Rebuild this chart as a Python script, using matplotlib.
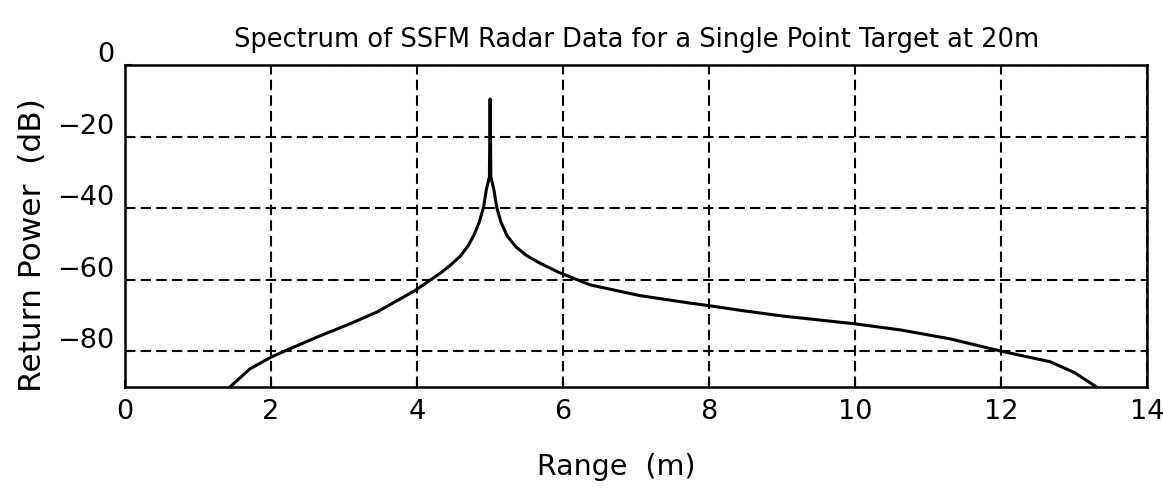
import numpy as np
import matplotlib
matplotlib.use('Agg')
import matplotlib.pyplot as plt
import matplotlib.transforms as mtransforms

# Values
range_m = [1.44, 1.71, 2.0, 2.21, 2.63, 3.08, 3.45, 3.77, 3.97, 4.22, 4.32, 4.45,
           4.59, 4.70, 4.78, 4.85, 4.91, 4.95, 4.99, 5.0, 5.01, 5.05, 5.09,
           5.15, 5.23, 5.35, 5.50, 5.68, 5.94, 6.37, 7.05, 7.74, 8.06, 8.42,
           9.0, 10.0, 10.62, 11.3, 11.99, 12.67, 13.0, 13.3]
power_db = [-90, -85.0, -81.7, -79.8, -76.1, -72.4, -69.1, -65.4, -63.1, -59.6, -58.2, -56.1,
            -53.5, -50.5, -47.5, -44.0, -39.8, -34.7, -31.3, -9.5, -31.3, -34.7, -39.8,
            -44.0, -47.7, -50.8, -53.3, -55.4, -58.0, -61.5, -64.5, -66.6, -67.5, -68.6,
            -70.2, -72.4, -74.1, -76.6, -80.0, -83.0, -86.0, -90]

xticks = [0, 2, 4, 6, 8, 10, 12, 14]
yticks = [-80, -60, -40, -20, 0]

fig = plt.figure(figsize=(11.63, 4.89), dpi=100)
ax = fig.add_axes([0.1075, 0.207, 0.879, 0.658])

ax.plot(range_m, power_db, color='black', lw=2.2, solid_joinstyle='round')

ax.set_xlim(0, 14)
ax.set_ylim(-90, 0)
ax.set_xticks(xticks)
ax.set_yticks(yticks)
ax.grid(True, color='black', lw=1.5, linestyle=(0, (5, 2.5)))
ax.tick_params(direction='in', length=5, width=1.5, labelsize=19.5, pad=8)
for s in ax.spines.values():
    s.set_linewidth(1.8)

# the top "0" label sits a bit above the axes edge in the original
off = mtransforms.ScaledTranslation(0, 10 / 72, fig.dpi_scale_trans)
for tick in ax.yaxis.get_major_ticks():
    if tick.get_loc() == 0:
        tick.label1.set_transform(tick.label1.get_transform() + off)

ax.set_xlabel('Range  (m)', fontsize=20.5, labelpad=20)
ax.xaxis.label.set_x(0.481)
ax.set_ylabel('Return Power  (dB)', fontsize=22.5, labelpad=7)
ax.yaxis.label.set_y(0.444)
ax.set_title('Spectrum of SSFM Radar Data for a Single Point Target at 20m',
             fontsize=18.5, pad=14)

fig.savefig('out.png', dpi=100)
